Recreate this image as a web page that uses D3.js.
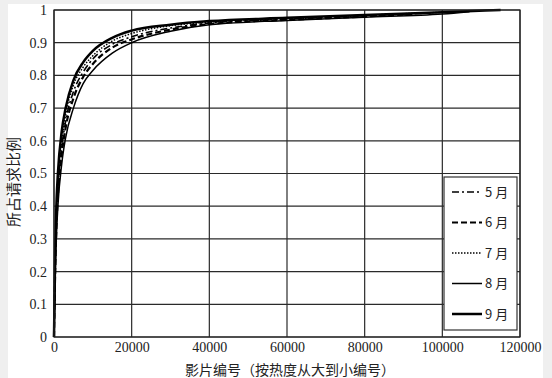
<!DOCTYPE html>
<html>
<head>
<meta charset="utf-8">
<script src="https://cdn.jsdelivr.net/npm/d3@7"></script>
<style>
  html, body { margin: 0; padding: 0; background: #efefef; }
  svg { display: block; }
  .num text { font-family: 'Liberation Serif', 'Times New Roman', 'DejaVu Serif', serif !important; font-size: 14px; }
</style>
</head>
<body>
<div id="chart"></div>
<script>
// Data
const xTicks = [0, 20000, 40000, 60000, 80000, 100000, 120000];
const yTicks = [0, 0.1, 0.2, 0.3, 0.4, 0.5, 0.6, 0.7, 0.8, 0.9, 1];
const months = ['5 月', '6 月', '7 月', '8 月', '9 月'];

const may_x  = [0, 300, 700, 1000, 2000, 3000, 5000, 7500, 10000, 15000, 20000, 30000, 40000, 60000, 80000, 95000];
const may_y  = [0, 0.22, 0.38, 0.45, 0.58, 0.66, 0.75, 0.81, 0.85, 0.895, 0.918, 0.945, 0.96, 0.972, 0.982, 0.99];
const jun_x  = [0, 300, 700, 1000, 2000, 3000, 5000, 7500, 10000, 15000, 20000, 30000, 40000, 60000, 80000, 93000];
const jun_y  = [0, 0.2, 0.36, 0.43, 0.56, 0.64, 0.73, 0.795, 0.835, 0.885, 0.91, 0.94, 0.957, 0.97, 0.98, 0.988];
const jul_x  = [0, 300, 700, 1000, 2000, 3000, 5000, 7500, 10000, 15000, 20000, 30000, 40000, 60000, 80000, 100000];
const jul_y  = [0, 0.24, 0.4, 0.47, 0.6, 0.68, 0.77, 0.825, 0.86, 0.905, 0.928, 0.952, 0.963, 0.974, 0.984, 0.993];
const aug_x  = [0, 300, 700, 1000, 2000, 3000, 5000, 7500, 10000, 15000, 20000, 30000, 40000, 60000, 80000, 100000, 107000];
const aug_y  = [0, 0.18, 0.33, 0.4, 0.53, 0.61, 0.7, 0.775, 0.815, 0.868, 0.9, 0.935, 0.955, 0.968, 0.978, 0.988, 0.995];
const sep_x  = [0, 300, 700, 1000, 2000, 3000, 5000, 7500, 10000, 15000, 20000, 30000, 40000, 60000, 80000, 100000, 115000];
const sep_y  = [0, 0.26, 0.43, 0.5, 0.63, 0.7, 0.785, 0.84, 0.875, 0.915, 0.937, 0.955, 0.966, 0.976, 0.985, 0.993, 1.0];

const seriesX = [may_x, jun_x, jul_x, aug_x, sep_x];
const seriesY = [may_y, jun_y, jul_y, aug_y, sep_y];

const W = 552, H = 378;
const margin = { top: 10, right: 32, bottom: 41, left: 54 };
const width = W - margin.left - margin.right,
      height = H - margin.top - margin.bottom;

const cjk = "'Noto Sans CJK SC', serif";

// line styles per month
const styles = [
  { width: 1.6, dash: '7,3,2,3' },
  { width: 2.2, dash: '6,3' },
  { width: 1.5, dash: '1.5,1.5' },
  { width: 1.5, dash: null },
  { width: 2.5, dash: null }
];

const svg = d3.select('#chart').append('svg')
    .attr('width', W)
    .attr('height', H);

// white page area
svg.append('rect')
    .attr('x', 8).attr('y', 4)
    .attr('width', 535).attr('height', H - 4)
    .attr('fill', '#fff');

const g = svg.append('g')
    .attr('transform', `translate(${margin.left},${margin.top})`);

const x = d3.scaleLinear().domain([0, 120000]).range([0, width]);
const y = d3.scaleLinear().domain([0, 1]).range([height, 0]);

// grid
g.append('g')
    .selectAll('line')
    .data(yTicks)
    .enter().append('line')
    .attr('x1', 0).attr('x2', width)
    .attr('y1', d => y(d)).attr('y2', d => y(d))
    .attr('stroke', '#2a2a2a').attr('stroke-width', 1.2);

g.append('g')
    .selectAll('line')
    .data(xTicks)
    .enter().append('line')
    .attr('y1', 0).attr('y2', height)
    .attr('x1', d => x(d)).attr('x2', d => x(d))
    .attr('stroke', '#2a2a2a').attr('stroke-width', 1.2);

// axes (labels only)
const yAxis = g.append('g')
    .attr('class', 'num')
    .call(d3.axisLeft(y).tickValues(yTicks).tickSize(0).tickPadding(7).tickFormat(d => d3.format('~g')(d)));
yAxis.select('.domain').remove();
yAxis.selectAll('text').attr('fill', '#222');

const xAxis = g.append('g')
    .attr('class', 'num')
    .attr('transform', `translate(0,${height})`)
    .call(d3.axisBottom(x).tickValues(xTicks).tickSize(0).tickPadding(5).tickFormat(d3.format('d')));
xAxis.select('.domain').remove();
xAxis.selectAll('text').attr('fill', '#222');

// curves
const line = d3.line()
    .x(d => x(d[0]))
    .y(d => y(d[1]))
    .curve(d3.curveMonotoneX);

seriesX.forEach((xs, i) => {
    const pts = xs.map((v, j) => [v, seriesY[i][j]]);
    g.append('path')
        .datum(pts)
        .attr('d', line)
        .attr('fill', 'none')
        .attr('stroke', '#000')
        .attr('stroke-width', styles[i].width)
        .attr('stroke-dasharray', styles[i].dash);
});

// plot border
g.append('rect')
    .attr('x', 0).attr('y', 0)
    .attr('width', width).attr('height', height)
    .attr('fill', 'none')
    .attr('stroke', '#222').attr('stroke-width', 1.2);

// legend
const legend = g.append('g')
    .attr('transform', `translate(${444 - margin.left},${177 - margin.top})`);

legend.append('rect')
    .attr('x', 0).attr('y', 0)
    .attr('width', 73).attr('height', 153)
    .attr('fill', '#fff')
    .attr('stroke', '#333').attr('stroke-width', 1.2);

months.forEach((m, i) => {
    const yy = 15 + i * 30.5;
    legend.append('line')
        .attr('x1', 8).attr('x2', 38)
        .attr('y1', yy).attr('y2', yy)
        .attr('stroke', '#000')
        .attr('stroke-width', styles[i].width)
        .attr('stroke-dasharray', styles[i].dash);
    legend.append('text')
        .attr('x', 41).attr('y', yy)
        .attr('dy', '0.35em')
        .attr('font-family', cjk)
        .attr('font-size', 13)
        .attr('fill', '#222')
        .text(m);
});

// axis titles
svg.append('text')
    .attr('x', 290)
    .attr('y', 375)
    .attr('text-anchor', 'middle')
    .attr('font-family', cjk)
    .attr('font-size', 14)
    .attr('fill', '#222')
    .text('影片编号（按热度从大到小编号）');

svg.append('text')
    .attr('transform', `translate(19,182) rotate(-90)`)
    .attr('text-anchor', 'middle')
    .attr('font-family', cjk)
    .attr('font-size', 15)
    .attr('fill', '#222')
    .text('所占请求比例');
</script>
</body>
</html>
